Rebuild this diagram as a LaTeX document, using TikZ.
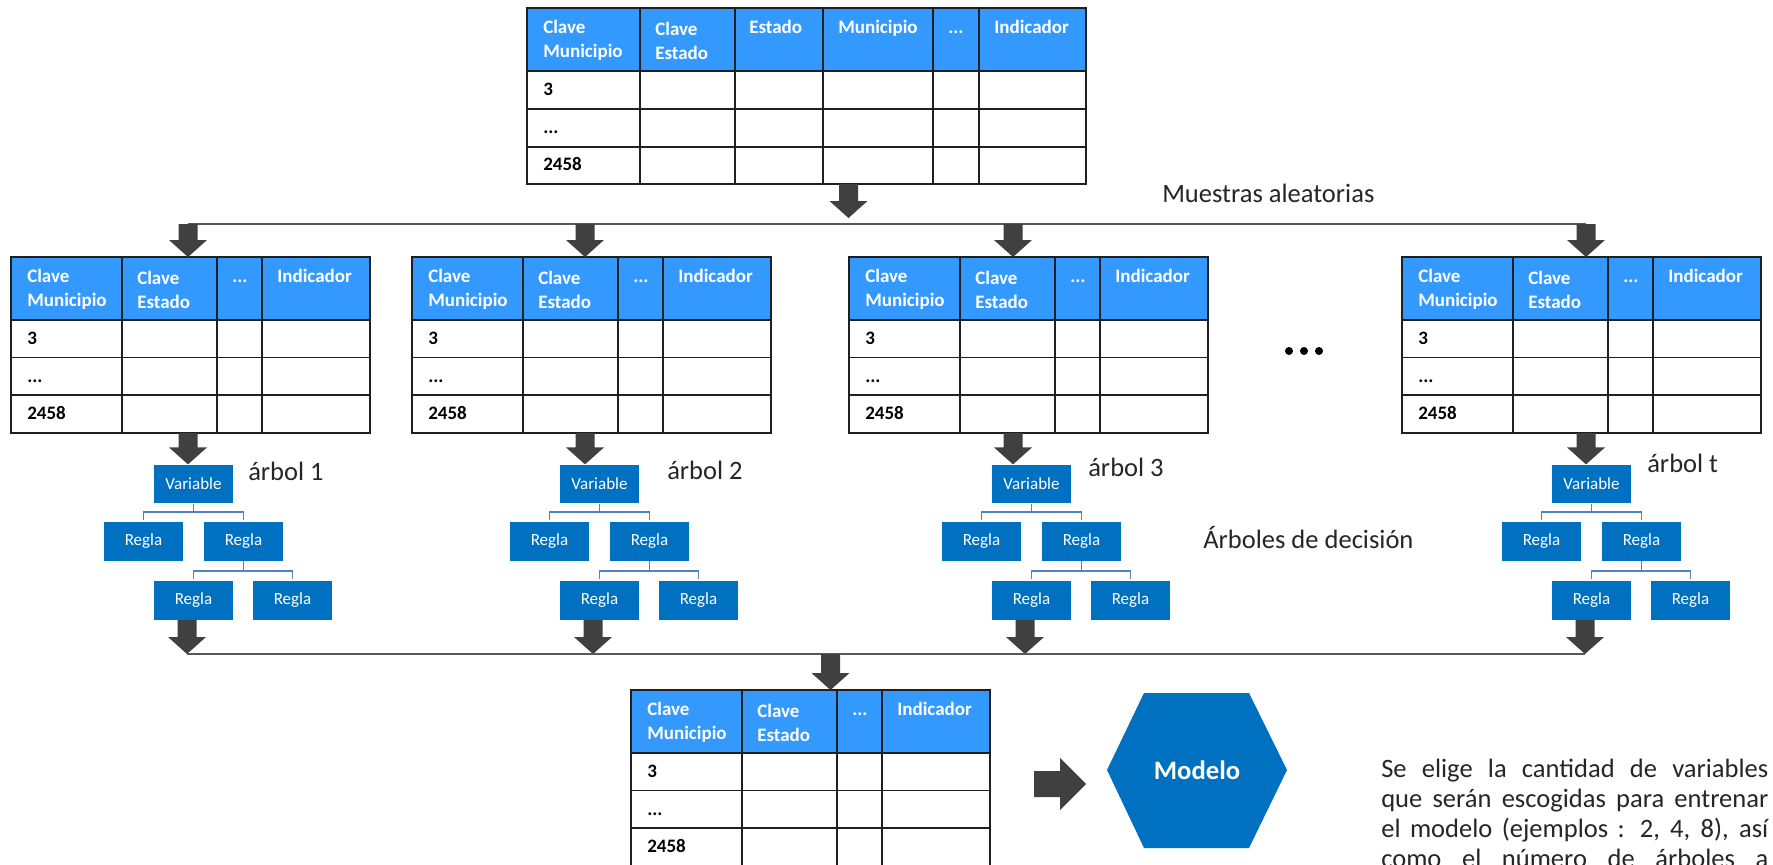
\documentclass[tikz,border=0pt]{standalone}
\usepackage{fontspec}
\setmainfont{Carlito}
\usetikzlibrary{calc}

\definecolor{headblue}{RGB}{51,153,255}
\definecolor{treeblue}{RGB}{0,112,192}
\definecolor{arrowgray}{RGB}{64,64,64}
\definecolor{linkgray}{RGB}{88,88,88}
\definecolor{branchblue}{RGB}{84,130,190}
\definecolor{inktext}{RGB}{38,38,38}

\tikzset{
  gridline/.style={draw=black!88, line width=1.4pt},
  frame/.style={draw=black!88, line width=1.4pt, inner sep=0pt, outer sep=0pt, anchor=north west},
  hdr/.style={anchor=base west, inner sep=0pt, text=white, font=\fontsize{14.25}{16}\selectfont\bfseries},
  cell/.style={anchor=base west, inner sep=0pt, text=black, font=\fontsize{14.25}{16}\selectfont\bfseries},
  treebox/.style={fill=treeblue, text=white, minimum width=59.25pt, minimum height=29pt,
                  inner sep=0pt, font=\fontsize{12.75}{14}\selectfont},
  branch/.style={draw=branchblue, line width=1.1pt},
  link/.style={draw=linkgray, line width=1.6pt},
  lbl/.style={anchor=base west, inner sep=0pt, text=inktext, font=\fontsize{19.9}{22}\selectfont},
  fatdown/.style={to path={
    let \p1=(\tikztostart), \p2=(\tikztotarget) in
    (\x1-7.125pt,\y1) -- (\x1+7.125pt,\y1) -- (\x1+7.125pt,\y2+12.75pt)
    -- (\x1+14.25pt,\y2+12.75pt) -- (\x1,\y2) -- (\x1-14.25pt,\y2+12.75pt)
    -- (\x1-7.125pt,\y2+12.75pt) -- cycle}},
  fatright/.style={to path={
    let \p1=(\tikztostart), \p2=(\tikztotarget) in
    (\x1,\y1+9.75pt) -- (\x2-19.5pt,\y1+9.75pt) -- (\x2-19.5pt,\y1+19.5pt)
    -- (\x2,\y1) -- (\x2-19.5pt,\y1-19.5pt) -- (\x2-19.5pt,\y1-9.75pt)
    -- (\x1,\y1-9.75pt) -- cycle}},
}

% four-column sample table: #1 name, #2 left, #3 top
\newcommand\smalltable[3]{%
  \begin{scope}[shift={(#2,#3)}]
    \fill[headblue] (0,0) rectangle (359,63);
    \draw[gridline] (0,63) -- (359,63) (0,100.5) -- (359,100.5) (0,138) -- (359,138)
      (111,0) -- (111,176) (206,0) -- (206,176) (251,0) -- (251,176);
    \node[frame, minimum width=269.25pt, minimum height=132pt] (#1) at (0,0) {};
    \node[hdr] at (16,25) {Clave};
    \node[hdr] at (16,49) {Municipio};
    \node[hdr] at (126,27) {Clave};
    \node[hdr] at (126,51) {Estado};
    \node[hdr] at (221,25) {...};
    \node[hdr] at (266,25) {Indicador};
    \node[cell] at (16,87) {3};
    \node[cell] at (16,125) {...};
    \node[cell] at (16,162) {2458};
  \end{scope}}

% decision tree: #1 name, #2 left edge of the root box
\newcommand\dtree[2]{%
  \node[treebox] (#1-v) at (#2+39.5,484) {Variable};
  \node[treebox] (#1-a) at (#2-10.5,541.5) {Regla};
  \node[treebox] (#1-b) at (#2+89.5,541.5) {Regla};
  \node[treebox] (#1-c) at (#2+39.5,600.5) {Regla};
  \node[treebox] (#1-d) at (#2+138.5,600.5) {Regla};
  \draw[branch] (#1-v.south) -- ++(0,9);
  \draw[branch] ($(#1-a.north)+(0,-1.5)$) -- ++(0,-8.5) -| ($(#1-b.north)+(0,-1.5)$);
  \draw[branch] (#1-b.south) -- ++(0,9);
  \draw[branch] ($(#1-c.north)+(0,-1.5)$) -- ++(0,-8.5) -| ($(#1-d.north)+(0,-1.5)$);
}

\begin{document}
\begin{tikzpicture}[x=0.75pt,y=-0.75pt]
\clip (0,0) rectangle (1773,864);
\fill[white] (0,0) rectangle (1773,864);

% source table
\begin{scope}[shift={(527,8)}]
  \fill[headblue] (0,0) rectangle (559,63);
  \draw[gridline] (0,63) -- (559,63) (0,101) -- (559,101) (0,139) -- (559,139)
    (113,0) -- (113,176) (208,0) -- (208,176) (296,0) -- (296,176)
    (406,0) -- (406,176) (452,0) -- (452,176);
  \node[frame, minimum width=419.25pt, minimum height=132pt] (src) at (0,0) {};
  \node[hdr] at (16,25) {Clave};
  \node[hdr] at (16,49) {Municipio};
  \node[hdr] at (128,27) {Clave};
  \node[hdr] at (128,51) {Estado};
  \node[hdr] at (222,25) {Estado};
  \node[hdr] at (311,25) {Municipio};
  \node[hdr] at (421,25) {...};
  \node[hdr] at (467,25) {Indicador};
  \node[cell] at (16,87) {3};
  \node[cell] at (16,125) {...};
  \node[cell] at (16,162) {2458};
\end{scope}

% random samples
\coordinate (split) at (848.5,218);
\fill[arrowgray] (src.south -| split) to[fatdown] (split);
\coordinate (b1) at (188,224);
\coordinate (b2) at (585,224);
\coordinate (b3) at (1013,224);
\coordinate (b4) at (1586,224);
\draw[link] (b1) -- (b4);
\node[lbl] (muestras) at (1162,202) {Muestras aleatorias};

\smalltable{s1}{11}{257}
\smalltable{s2}{412}{257}
\smalltable{s3}{849}{257}
\smalltable{s4}{1402}{257}

\fill[arrowgray] (b1) to[fatdown] (b1 |- s1.north);
\fill[arrowgray] (b2) to[fatdown] (b2 |- s2.north);
\fill[arrowgray] (b3) to[fatdown] (b3 |- s3.north);
\fill[arrowgray] (b4) to[fatdown] (b4 |- s4.north);

\foreach \dx in {1289,1304,1319} \fill[black] (\dx,351) circle[radius=3pt];

% decision trees
\dtree{t1}{154}
\dtree{t2}{560}
\dtree{t3}{992}
\dtree{t4}{1552}

\fill[arrowgray] (b1 |- s1.south) to[fatdown] (b1 |- t1-v.north);
\fill[arrowgray] (b2 |- s2.south) to[fatdown] (b2 |- t2-v.north);
\fill[arrowgray] (b3 |- s3.south) to[fatdown] (b3 |- t3-v.north);
\fill[arrowgray] (b4 |- s4.south) to[fatdown] (b4 |- t4-v.north);

\node[lbl] at (248,480) {árbol 1};
\node[lbl] at (667,479) {árbol 2};
\node[lbl] at (1088,476) {árbol 3};
\node[lbl] at (1647,472) {árbol t};
\node[lbl] at (1203,548) {Árboles de decisión};

% aggregation
\coordinate (e1) at (187,654);
\coordinate (e2) at (593,654);
\coordinate (e3) at (1025,654);
\coordinate (e4) at (1585,654);
\fill[arrowgray] (e1 |- t1-c.south) to[fatdown] (e1);
\fill[arrowgray] (e2 |- t2-c.south) to[fatdown] (e2);
\fill[arrowgray] (e3 |- t3-c.south) to[fatdown] (e3);
\fill[arrowgray] (e4 |- t4-c.south) to[fatdown] (e4);
\draw[link] (e1) -- (e4);

\smalltable{res}{631}{690}
\coordinate (join) at (830.5,654);
\fill[arrowgray] (join) to[fatdown] (join |- res.north);

% model
\node[inner sep=0pt, text=white, font=\fontsize{20}{22}\selectfont\bfseries] (model) at (1197,770) {};
\fill[treeblue] ($(model)+(-90,0)$) -- ($(model)+(-53,-77)$) -- ($(model)+(52,-77)$)
  -- ($(model)+(90,0)$) -- ($(model)+(52,78)$) -- ($(model)+(-53,78)$) -- cycle;
\node[inner sep=0pt, text=white, font=\fontsize{20}{22}\selectfont\bfseries] at (model) {Modelo};
\coordinate (ra) at (1034,784);
\coordinate (rb) at (1086,784);
\fill[arrowgray] (ra) to[fatright] (rb);

% note
\node[lbl] at (1381,777) {\makebox[290.25pt][s]{Se elige la cantidad de variables}};
\node[lbl] at (1381,807) {\makebox[290.25pt][s]{que serán escogidas para entrenar}};
\node[lbl] at (1381,837) {\makebox[290.25pt][s]{el modelo (ejemplos : 2, 4, 8), así}};
\node[lbl] at (1381,867) {\makebox[290.25pt][s]{como el número de árboles a}};
\end{tikzpicture}
\end{document}
